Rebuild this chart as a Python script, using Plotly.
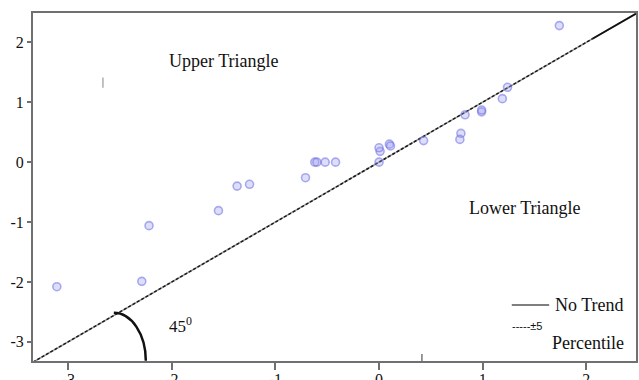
import plotly.graph_objects as go

# ---- data ----
x_vals = [-3.11, -2.29, -2.22, -1.55, -1.37, -1.25, -0.71, -0.62, -0.60, -0.52, -0.42,
          0.00, 0.01, 0.00, 0.10, 0.11, 0.43, 0.79, 0.78, 0.83, 0.99, 0.99, 1.19, 1.24, 1.74]
y_vals = [-2.08, -1.99, -1.06, -0.81, -0.40, -0.37, -0.26, 0.00, 0.00, 0.00, 0.00,
          0.00, 0.18, 0.24, 0.30, 0.27, 0.36, 0.48, 0.38, 0.79, 0.84, 0.87, 1.06, 1.25, 2.28]
tick_vals = [-3, -2, -1, 0, 1, 2]
tick_text = ["-3", "-2", "-1", "0", "1", "2"]
x_range = [-3.34, 2.48]
y_range = [-3.32, 2.49]
trend_break = 2.06

SERIF = "Liberation Serif"

fig = go.Figure()

# No-trend reference line (gray solid) and +-5 percentile dashes
fig.add_trace(go.Scatter(x=[x_range[0], x_range[1]], y=[x_range[0], x_range[1]],
                         mode="lines", line=dict(color="#9a9a9a", width=1.6),
                         hoverinfo="skip", showlegend=False))
fig.add_trace(go.Scatter(x=[x_range[0], trend_break], y=[x_range[0], trend_break],
                         mode="lines", line=dict(color="#1a1a1a", width=1.5, dash="3px,2px"),
                         hoverinfo="skip", showlegend=False))
fig.add_trace(go.Scatter(x=[trend_break, x_range[1]], y=[trend_break, x_range[1]],
                         mode="lines", line=dict(color="#111111", width=1.8),
                         hoverinfo="skip", showlegend=False))

# data points
fig.add_trace(go.Scatter(x=x_vals, y=y_vals, mode="markers",
                         marker=dict(size=8, color="rgba(160,160,240,0.35)",
                                     line=dict(color="rgba(110,110,225,0.55)", width=1.6)),
                         showlegend=False))

shapes = [
    # 45 degree arc
    dict(type="path", xref="x", yref="y",
         path="M -2.56,-2.516 C -2.389,-2.516 -2.251,-2.875 -2.251,-3.317",
         line=dict(color="#111111", width=2.5)),
    # legend line
    dict(type="line", xref="paper", yref="paper", x0=0.794, x1=0.856, y0=0.161, y1=0.161,
         line=dict(color="#555555", width=1.5)),
    # small stray tick on bottom axis
    dict(type="line", xref="paper", yref="paper", x0=0.645, x1=0.645, y0=0.0, y1=0.02,
         line=dict(color="#555555", width=1.2)),
    # small stray mark upper left
    dict(type="line", xref="paper", yref="paper", x0=0.116, x1=0.116, y0=0.785, y1=0.815,
         line=dict(color="#999999", width=1.2)),
]

annotations = [
    dict(x=-1.50, y=1.69, xref="x", yref="y", text="Upper Triangle", showarrow=False,
         xanchor="center", yanchor="middle", font=dict(family=SERIF, size=18, color="#111")),
    dict(x=1.41, y=-0.76, xref="x", yref="y", text="Lower Triangle", showarrow=False,
         xanchor="center", yanchor="middle", font=dict(family=SERIF, size=18, color="#111")),
    dict(x=-2.05, y=-2.72, xref="x", yref="y", text="45<sup>0</sup>", showarrow=False,
         xanchor="left", yanchor="middle", font=dict(family=SERIF, size=17, color="#111")),
    dict(x=0.862, y=0.161, xref="paper", yref="paper", text="No Trend", showarrow=False,
         xanchor="left", yanchor="middle", font=dict(family=SERIF, size=18, color="#111")),
    dict(x=0.791, y=0.10, xref="paper", yref="paper", text="-----±5", showarrow=False,
         xanchor="left", yanchor="middle",
         font=dict(family="Liberation Sans", size=11, color="#111")),
    dict(x=0.857, y=0.052, xref="paper", yref="paper", text="Percentile", showarrow=False,
         xanchor="left", yanchor="middle", font=dict(family=SERIF, size=18, color="#111")),
]

fig.update_layout(
    width=639, height=380,
    margin=dict(l=33, r=3, t=13, b=19),
    paper_bgcolor="white", plot_bgcolor="white",
    shapes=shapes, annotations=annotations,
    font=dict(family=SERIF, size=16, color="#111"),
)
fig.update_xaxes(range=x_range, tickvals=tick_vals, ticktext=tick_text, automargin=False,
                 showgrid=False, zeroline=False, showline=True, mirror=True,
                 linecolor="#707070", linewidth=2, ticks="outside", ticklen=7,
                 tickcolor="#707070", tickwidth=1.5, ticklabelstandoff=-4,
                 tickfont=dict(family=SERIF, size=16, color="#111"))
fig.update_yaxes(range=y_range, tickvals=tick_vals, ticktext=tick_text, automargin=False,
                 showgrid=False, zeroline=False, showline=True, mirror=True,
                 linecolor="#707070", linewidth=2, ticks="outside", ticklen=4,
                 tickcolor="#707070", tickwidth=1.5,
                 tickfont=dict(family=SERIF, size=16, color="#111"))

fig.write_html("out.html", config={"displayModeBar": False},
               post_script="document.body.style.margin='0';document.body.style.overflow='hidden';")
